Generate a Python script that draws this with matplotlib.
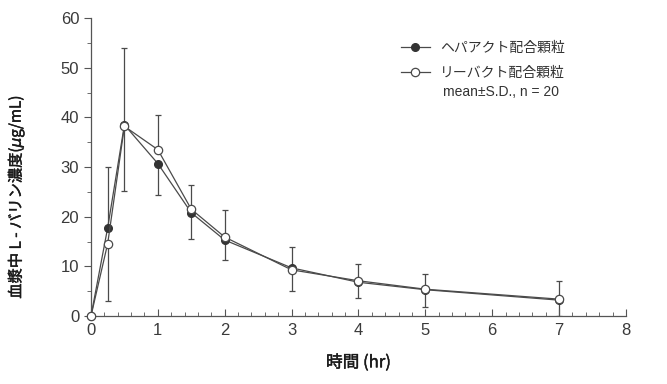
import matplotlib.pyplot as plt
import matplotlib.patheffects as pe
import numpy as np
from matplotlib.ticker import MultipleLocator

plt.rcParams['font.family'] = ['Noto Sans CJK JP', 'DejaVu Sans']

t = [0, 0.25, 0.5, 1, 1.5, 2, 3, 4, 5, 7]
hepa = [0, 17.8, 38.5, 30.7, 20.8, 15.3, 9.7, 6.8, 5.3, 3.2]
hepa_sd = [0, 12.2, 15.4, 6.3, 5.2, 4.1, 4.1, 3.1, 3.4, 3.2]
hepa_up = [1, 1, 1, 0, 0, 0, 1, 0, 0, 0]   # 1: +SD drawn for hepa, -SD for leave
leave = [0, 14.6, 38.2, 33.5, 21.5, 15.9, 9.3, 7.1, 5.4, 3.4]
leave_sd = [0, 11.5, 13.0, 6.9, 4.8, 5.5, 4.3, 3.3, 3.0, 3.6]

labels = ["ヘパアクト配合顆粒", "リーバクト配合顆粒"]

fig = plt.figure(figsize=(6.67, 3.84), dpi=100)
ax = fig.add_axes([0.1364, 0.177, 0.802, 0.776])

up = np.array(hepa_up)
sd1 = np.array(hepa_sd)
sd2 = np.array(leave_sd)
err1 = [sd1 * (1 - up), sd1 * up]
err2 = [sd2 * up, sd2 * (1 - up)]

lc = "#4a4a4a"
ax.errorbar(t, leave, yerr=err2, fmt="none", ecolor=lc, elinewidth=0.9, capsize=2.5, capthick=0.9, zorder=1)
ax.errorbar(t, hepa, yerr=err1, fmt="none", ecolor=lc, elinewidth=0.9, capsize=2.5, capthick=0.9, zorder=1)
ax.plot(t, hepa, color=lc, lw=0.9, marker="o", ms=5.5, mfc="#333333", mec="#333333",
        label=labels[0], zorder=3, clip_on=False)
ax.plot(t, leave, color=lc, lw=0.9, marker="o", ms=6, mfc="white", mec=lc, mew=0.9,
        label=labels[1], zorder=4, clip_on=False)

ax.set_xlim(0, 8)
ax.set_ylim(0, 60)
ax.xaxis.set_major_locator(MultipleLocator(1))
ax.xaxis.set_minor_locator(MultipleLocator(0.2))
ax.yaxis.set_major_locator(MultipleLocator(10))
ax.yaxis.set_minor_locator(MultipleLocator(5))
for s in ["top", "right"]:
    ax.spines[s].set_visible(False)
for s in ["left", "bottom"]:
    ax.spines[s].set_color("#555555")
    ax.spines[s].set_linewidth(0.9)
ax.tick_params(axis="x", which="both", direction="in", colors="#555555", labelcolor="#3a3a3a", labelsize=12)
ax.tick_params(axis="x", which="major", length=5, pad=5)
ax.tick_params(axis="x", which="minor", length=3)
ax.tick_params(axis="y", which="both", direction="out", colors="#555555", labelcolor="#3a3a3a", labelsize=12)
ax.tick_params(axis="y", which="major", length=5)
ax.tick_params(axis="y", which="minor", length=3)
for lab in ax.get_xticklabels() + ax.get_yticklabels():
    lab.set_family(['Liberation Sans', 'DejaVu Sans'])

thick = [pe.withStroke(linewidth=0.3, foreground="#1a1a1a")]
ax.set_xlabel("時間 (hr)", fontsize=12, color="#1a1a1a", path_effects=thick)
ax.xaxis.set_label_coords(0.5, -0.128)
ax.set_ylabel("血漿中 L - バリン濃度($\\mu$g/mL)", fontsize=11, color="#1a1a1a", path_effects=thick)
ax.yaxis.set_label_coords(-0.12, 0.40)

leg = ax.legend(loc="upper left", bbox_to_anchor=(0.566, 0.948), frameon=False, fontsize=10,
                borderpad=0, handlelength=2.1, handletextpad=0.75, labelspacing=0.8)
for txt in leg.get_texts():
    txt.set_color("#333333")
ax.text(0.658, 0.752, "mean±S.D., n = 20", transform=ax.transAxes, fontsize=10, color="#333333",
        va="center", family=['Liberation Sans', 'DejaVu Sans'])

fig.savefig("out.png", dpi=100)
